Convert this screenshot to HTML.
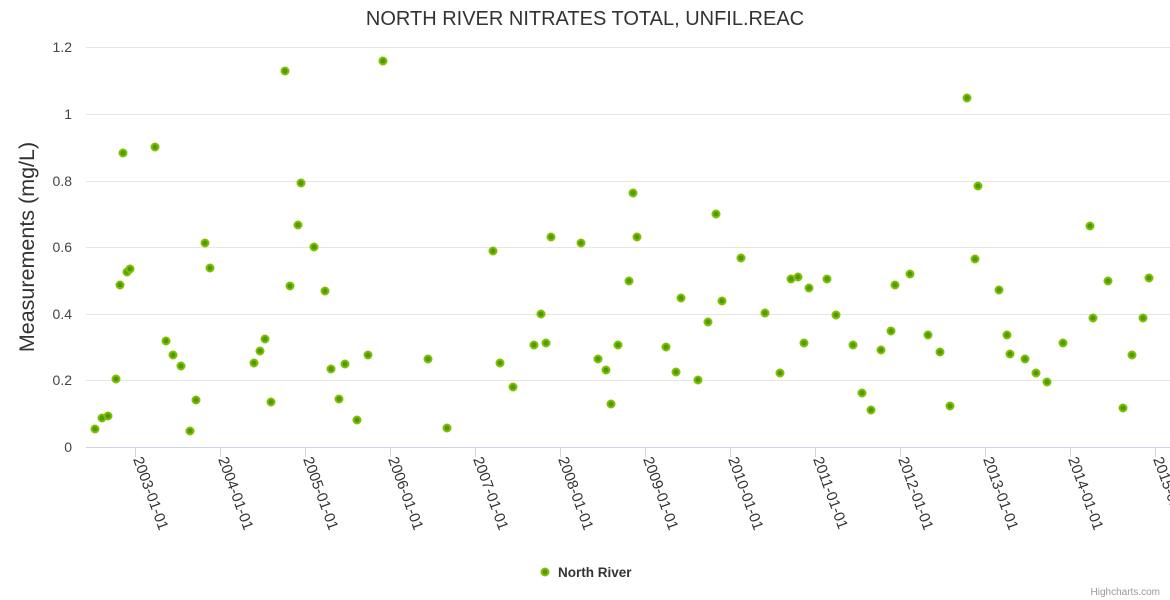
<!DOCTYPE html>
<html><head><meta charset="utf-8"><style>
html,body{margin:0;padding:0;background:#fff;}
svg{display:block;font-family:"Liberation Sans",sans-serif;}
</style></head><body>
<svg width="1170" height="600" xmlns="http://www.w3.org/2000/svg">
<text x="585" y="25" text-anchor="middle" font-size="20" fill="#333">NORTH RIVER NITRATES TOTAL, UNFIL.REAC</text>
<g stroke="#e6e6e6" stroke-width="1">
<line x1="86" y1="47.5" x2="1170" y2="47.5"/>
<line x1="86" y1="114.5" x2="1170" y2="114.5"/>
<line x1="86" y1="181.5" x2="1170" y2="181.5"/>
<line x1="86" y1="247.5" x2="1170" y2="247.5"/>
<line x1="86" y1="314.5" x2="1170" y2="314.5"/>
<line x1="86" y1="380.5" x2="1170" y2="380.5"/>
</g>
<line x1="86" y1="447.5" x2="1170" y2="447.5" stroke="#ccd6eb"/>
<g fill="#444" font-size="14" text-anchor="end">
<text x="72" y="52">1.2</text><text x="72" y="119">1</text><text x="72" y="186">0.8</text>
<text x="72" y="252">0.6</text><text x="72" y="319">0.4</text><text x="72" y="385">0.2</text><text x="72" y="452">0</text>
</g>
<text transform="translate(34,247) rotate(-90)" text-anchor="middle" font-size="21.5" fill="#333">Measurements (mg/L)</text>
<g stroke="#ccd6eb">
<line x1="135.5" y1="447" x2="135.5" y2="457"/><line x1="220.5" y1="447" x2="220.5" y2="457"/>
<line x1="305.5" y1="447" x2="305.5" y2="457"/><line x1="390.5" y1="447" x2="390.5" y2="457"/>
<line x1="475.5" y1="447" x2="475.5" y2="457"/><line x1="560.5" y1="447" x2="560.5" y2="457"/>
<line x1="645.5" y1="447" x2="645.5" y2="457"/><line x1="730.5" y1="447" x2="730.5" y2="457"/>
<line x1="815.5" y1="447" x2="815.5" y2="457"/><line x1="900.5" y1="447" x2="900.5" y2="457"/>
<line x1="985.5" y1="447" x2="985.5" y2="457"/><line x1="1070.5" y1="447" x2="1070.5" y2="457"/>
<line x1="1155.5" y1="447" x2="1155.5" y2="457"/>
</g>
<g fill="#333" font-size="15">
<text transform="translate(133,459) rotate(70)">2003-01-01</text>
<text transform="translate(218,459) rotate(70)">2004-01-01</text>
<text transform="translate(303,459) rotate(70)">2005-01-01</text>
<text transform="translate(388,459) rotate(70)">2006-01-01</text>
<text transform="translate(473,459) rotate(70)">2007-01-01</text>
<text transform="translate(558,459) rotate(70)">2008-01-01</text>
<text transform="translate(643,459) rotate(70)">2009-01-01</text>
<text transform="translate(728,459) rotate(70)">2010-01-01</text>
<text transform="translate(813,459) rotate(70)">2011-01-01</text>
<text transform="translate(898,459) rotate(70)">2012-01-01</text>
<text transform="translate(983,459) rotate(70)">2013-01-01</text>
<text transform="translate(1068,459) rotate(70)">2014-01-01</text>
<text transform="translate(1153,459) rotate(70)">2015-01-01</text>
</g>
<g fill="#4a9a00" stroke="#80c000" stroke-width="2">
<circle cx="95" cy="429" r="3.5"/><circle cx="102" cy="418" r="3.5"/><circle cx="108" cy="416" r="3.5"/><circle cx="116" cy="379" r="3.5"/><circle cx="120" cy="285" r="3.5"/><circle cx="123" cy="153" r="3.5"/><circle cx="127" cy="272" r="3.5"/><circle cx="130" cy="269" r="3.5"/><circle cx="155" cy="147" r="3.5"/><circle cx="166" cy="341" r="3.5"/><circle cx="173" cy="355" r="3.5"/><circle cx="181" cy="366" r="3.5"/><circle cx="190" cy="431" r="3.5"/><circle cx="196" cy="400" r="3.5"/><circle cx="205" cy="243" r="3.5"/><circle cx="210" cy="268" r="3.5"/><circle cx="254" cy="363" r="3.5"/><circle cx="260" cy="351" r="3.5"/><circle cx="265" cy="339" r="3.5"/><circle cx="271" cy="402" r="3.5"/><circle cx="285" cy="71" r="3.5"/><circle cx="290" cy="286" r="3.5"/><circle cx="298" cy="225" r="3.5"/><circle cx="301" cy="183" r="3.5"/><circle cx="314" cy="247" r="3.5"/><circle cx="325" cy="291" r="3.5"/><circle cx="331" cy="369" r="3.5"/><circle cx="339" cy="399" r="3.5"/><circle cx="345" cy="364" r="3.5"/><circle cx="357" cy="420" r="3.5"/><circle cx="368" cy="355" r="3.5"/><circle cx="383" cy="61" r="3.5"/><circle cx="428" cy="359" r="3.5"/><circle cx="447" cy="428" r="3.5"/><circle cx="493" cy="251" r="3.5"/><circle cx="500" cy="363" r="3.5"/><circle cx="513" cy="387" r="3.5"/><circle cx="534" cy="345" r="3.5"/><circle cx="541" cy="314" r="3.5"/><circle cx="546" cy="343" r="3.5"/><circle cx="551" cy="237" r="3.5"/><circle cx="581" cy="243" r="3.5"/><circle cx="598" cy="359" r="3.5"/><circle cx="606" cy="370" r="3.5"/><circle cx="611" cy="404" r="3.5"/><circle cx="618" cy="345" r="3.5"/><circle cx="629" cy="281" r="3.5"/><circle cx="633" cy="193" r="3.5"/><circle cx="637" cy="237" r="3.5"/><circle cx="666" cy="347" r="3.5"/><circle cx="676" cy="372" r="3.5"/><circle cx="681" cy="298" r="3.5"/><circle cx="698" cy="380" r="3.5"/><circle cx="708" cy="322" r="3.5"/><circle cx="716" cy="214" r="3.5"/><circle cx="722" cy="301" r="3.5"/><circle cx="741" cy="258" r="3.5"/><circle cx="765" cy="313" r="3.5"/><circle cx="780" cy="373" r="3.5"/><circle cx="791" cy="279" r="3.5"/><circle cx="798" cy="277" r="3.5"/><circle cx="804" cy="343" r="3.5"/><circle cx="809" cy="288" r="3.5"/><circle cx="827" cy="279" r="3.5"/><circle cx="836" cy="315" r="3.5"/><circle cx="853" cy="345" r="3.5"/><circle cx="862" cy="393" r="3.5"/><circle cx="871" cy="410" r="3.5"/><circle cx="881" cy="350" r="3.5"/><circle cx="891" cy="331" r="3.5"/><circle cx="895" cy="285" r="3.5"/><circle cx="910" cy="274" r="3.5"/><circle cx="928" cy="335" r="3.5"/><circle cx="940" cy="352" r="3.5"/><circle cx="950" cy="406" r="3.5"/><circle cx="967" cy="98" r="3.5"/><circle cx="975" cy="259" r="3.5"/><circle cx="978" cy="186" r="3.5"/><circle cx="999" cy="290" r="3.5"/><circle cx="1007" cy="335" r="3.5"/><circle cx="1010" cy="354" r="3.5"/><circle cx="1025" cy="359" r="3.5"/><circle cx="1036" cy="373" r="3.5"/><circle cx="1047" cy="382" r="3.5"/><circle cx="1063" cy="343" r="3.5"/><circle cx="1090" cy="226" r="3.5"/><circle cx="1093" cy="318" r="3.5"/><circle cx="1108" cy="281" r="3.5"/><circle cx="1123" cy="408" r="3.5"/><circle cx="1132" cy="355" r="3.5"/><circle cx="1143" cy="318" r="3.5"/><circle cx="1149" cy="278" r="3.5"/>
<circle cx="545" cy="572" r="3.5"/>
</g>
<text x="558" y="577" font-size="13.5" font-weight="bold" fill="#333">North River</text>
<text x="1160" y="595" text-anchor="end" font-size="10" fill="#999">Highcharts.com</text>
</svg>
</body></html>
